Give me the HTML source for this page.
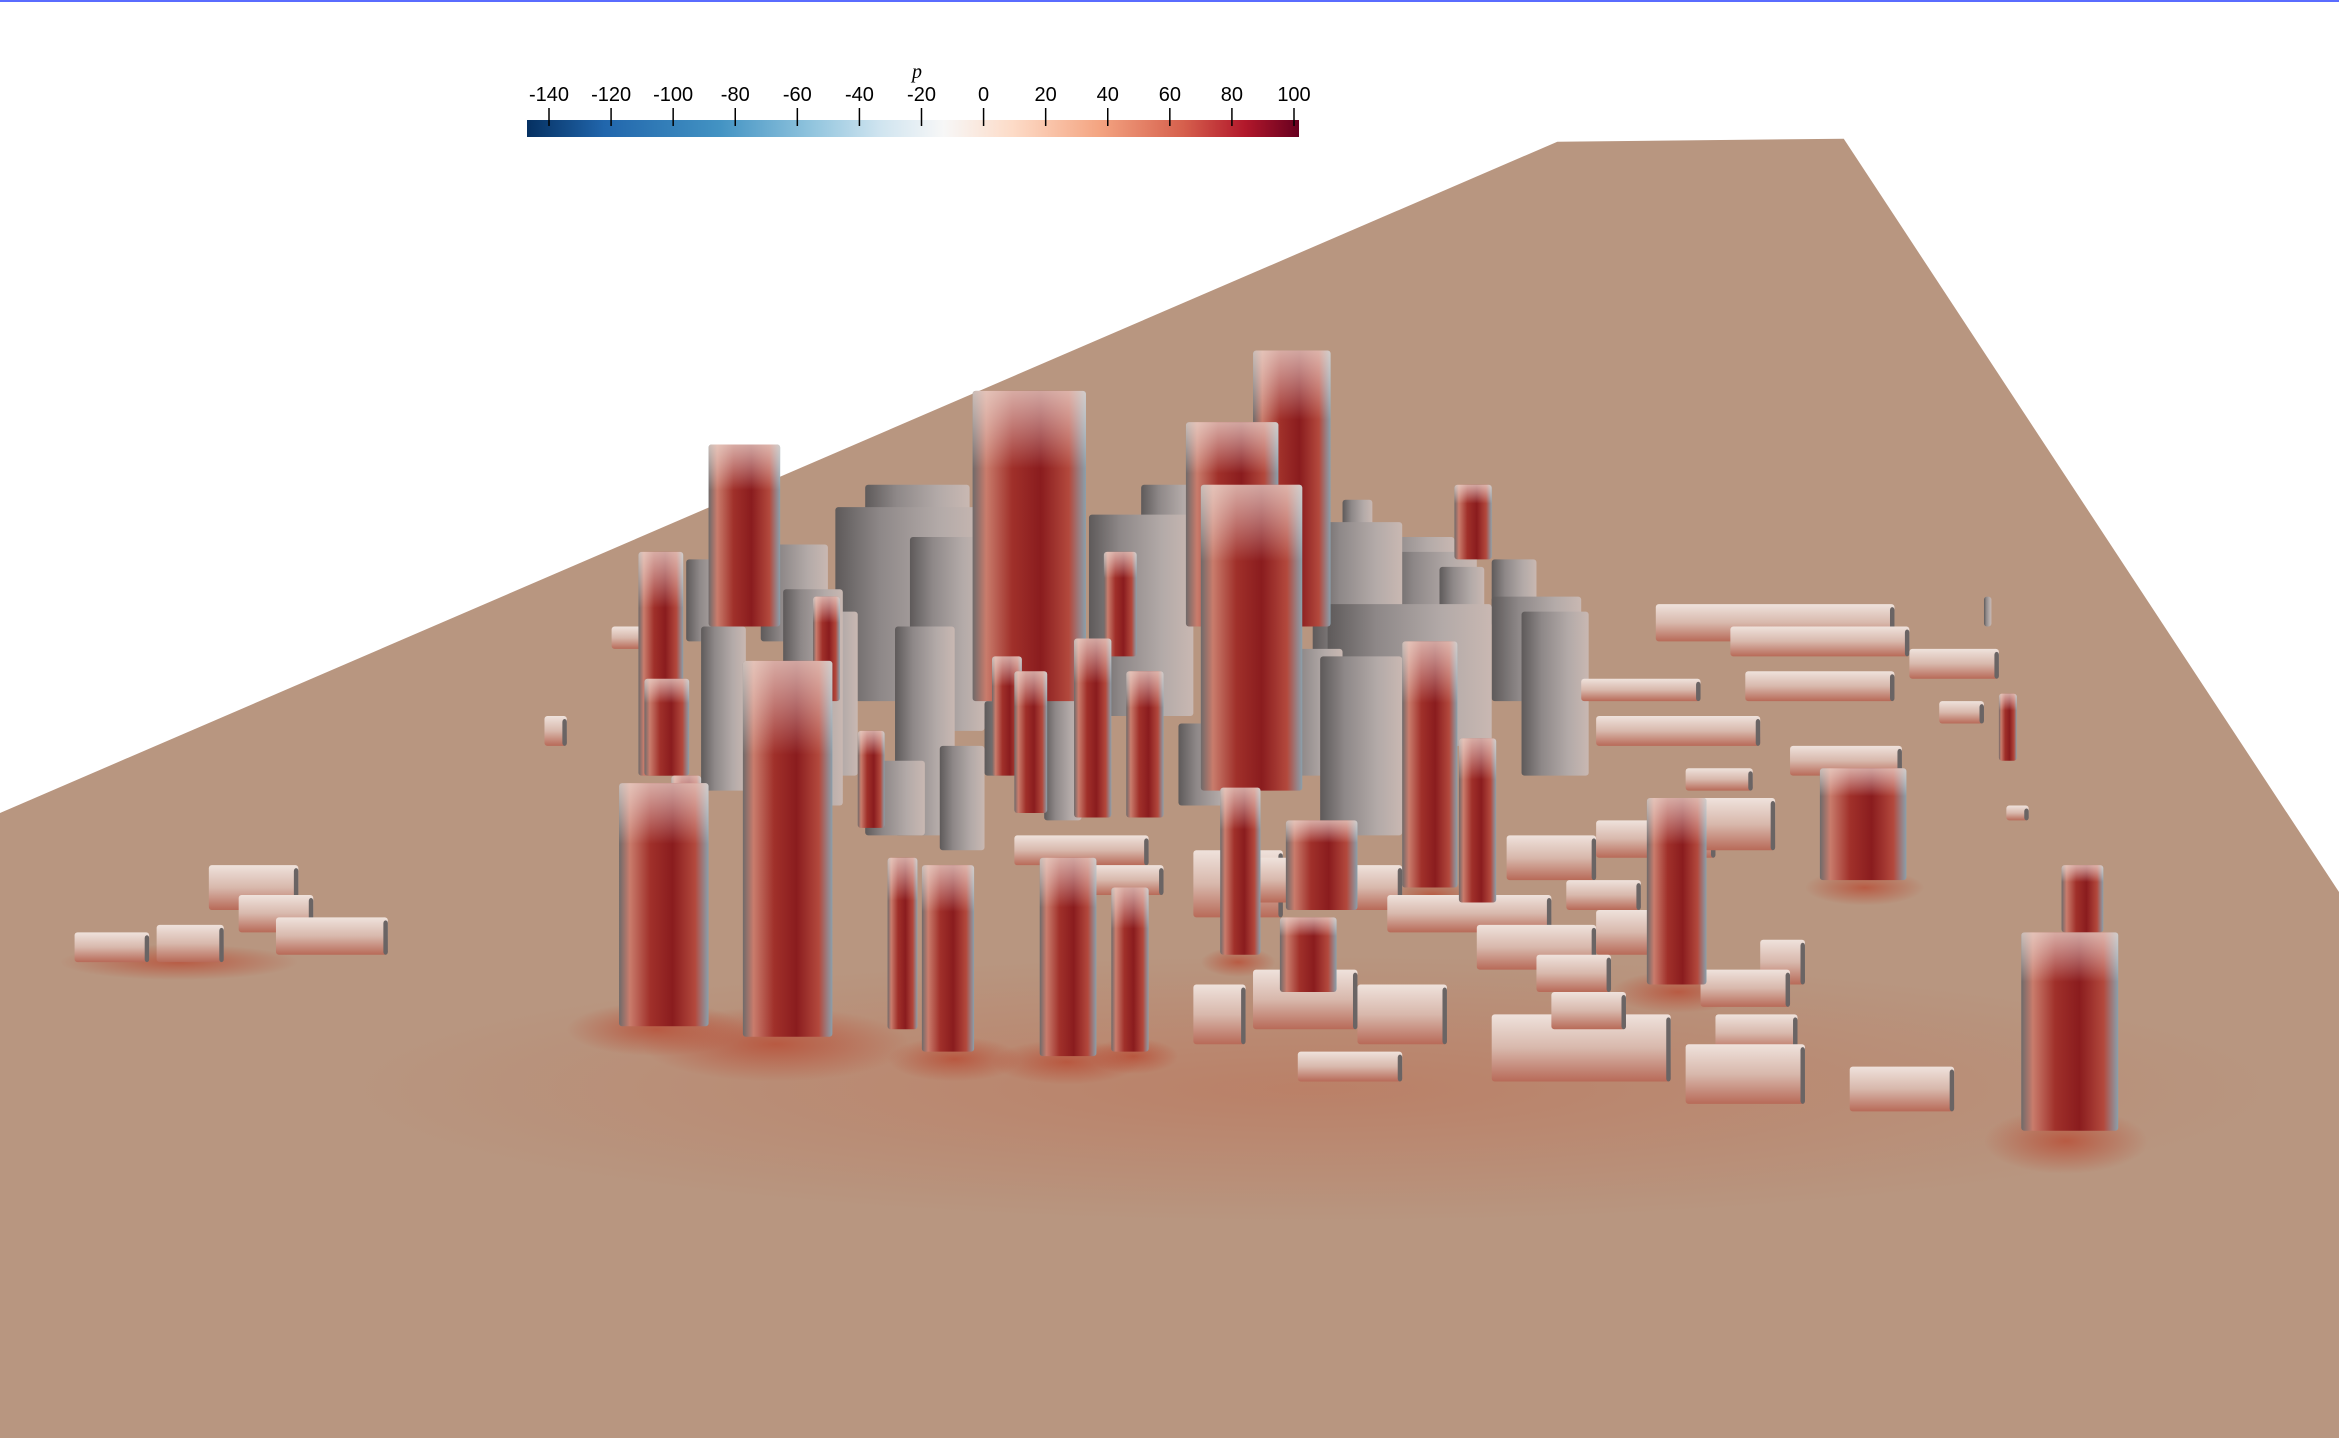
<!DOCTYPE html>
<html><head><meta charset="utf-8"><style>
html,body{margin:0;padding:0;background:#fff;}
#wrap{position:relative;width:2339px;height:1438px;overflow:hidden;font-family:"Liberation Sans",sans-serif;}
#scene{position:absolute;left:0;top:0;}
#cbar{position:absolute;left:0;top:0;}
#topline{position:absolute;left:0;top:0;width:2339px;height:2px;background:#5a6cff;}
</style></head><body>
<div id="wrap">
<svg id="scene" width="2339" height="1438" viewBox="0 0 1568 964" preserveAspectRatio="none">
<defs>
<linearGradient id="gRed" x1="0" x2="1" y1="0" y2="0">
<stop offset="0" stop-color="#6f6a6a"/><stop offset="0.12" stop-color="#c97c6c"/><stop offset="0.35" stop-color="#a0302a"/><stop offset="0.6" stop-color="#8a1c1e"/><stop offset="0.85" stop-color="#b3493d"/><stop offset="1" stop-color="#8aa0ac"/>
</linearGradient>
<linearGradient id="gRedV" x1="0" x2="0" y1="0" y2="1">
<stop offset="0" stop-color="#f0e0d8" stop-opacity="0.7"/><stop offset="0.25" stop-color="#fff" stop-opacity="0"/><stop offset="1" stop-color="#fff" stop-opacity="0"/>
</linearGradient>
<linearGradient id="gGrey" x1="0" x2="1" y1="0" y2="0">
<stop offset="0" stop-color="#5e5a5a"/><stop offset="0.3" stop-color="#8e8888"/><stop offset="0.7" stop-color="#b3aaa8"/><stop offset="1" stop-color="#c9b8b2"/>
</linearGradient>
<linearGradient id="gLow" x1="0" x2="0" y1="0" y2="1">
<stop offset="0" stop-color="#efe2dc"/><stop offset="0.5" stop-color="#d8b8ac"/><stop offset="1" stop-color="#b86a58"/>
</linearGradient>
<radialGradient id="halo" cx="0.5" cy="0.5" r="0.5">
<stop offset="0" stop-color="#b84830" stop-opacity="0.75"/><stop offset="1" stop-color="#b84830" stop-opacity="0"/>
</radialGradient>
<radialGradient id="wide" cx="0.5" cy="0.5" r="0.5">
<stop offset="0" stop-color="#c0583a" stop-opacity="0.35"/><stop offset="1" stop-color="#c0583a" stop-opacity="0"/>
</radialGradient>
</defs>
<polygon points="0,545 1044,95 1236,93 1568,598 1568,964 0,964" fill="#b89680"/>
<ellipse cx="880" cy="730" rx="650" ry="90" fill="url(#wide)"/>
<g id="halos"></g>
<g id="bldg"></g>
</svg>
<div id="topline"></div>
<svg id="cbar" width="2339" height="200">
<defs>
<linearGradient id="cmap" x1="0" x2="1">
<stop offset="0" stop-color="#053061"/><stop offset="0.1" stop-color="#2166ac"/><stop offset="0.25" stop-color="#4393c3"/><stop offset="0.37" stop-color="#92c5de"/><stop offset="0.46" stop-color="#d1e5f0"/><stop offset="0.54" stop-color="#f7f7f7"/><stop offset="0.63" stop-color="#fddbc7"/><stop offset="0.74" stop-color="#f4a582"/><stop offset="0.85" stop-color="#d6604d"/><stop offset="0.93" stop-color="#b2182b"/><stop offset="1" stop-color="#67001f"/>
</linearGradient>
</defs>
<rect x="527" y="120" width="772" height="17" fill="url(#cmap)"/>
<text x="917" y="78" font-family="Liberation Serif" font-style="italic" font-size="20" text-anchor="middle">p</text>
<g id="ticks"></g>
</svg>
</div>
<script>
const tickLabels=["-140","-120","-100","-80","-60","-40","-20","0","20","40","60","80","100"];
const tickValues=[-140,-120,-100,-80,-60,-40,-20,0,20,40,60,80,100];
const vmin=-140,vmax=100,x0=549,x1=1294;
const NS="http://www.w3.org/2000/svg";
const tg=document.getElementById('ticks');
tickValues.forEach((v,i)=>{
 const x=x0+(v-vmin)/(vmax-vmin)*(x1-x0);
 const l=document.createElementNS(NS,'line');
 
 
 l.setAttribute('x1',x);l.setAttribute('x2',x);l.setAttribute('y1',108);l.setAttribute('y2',126);
 l.setAttribute('stroke','#000');l.setAttribute('stroke-width','1.5');tg.appendChild(l);
 const t=document.createElementNS(NS,'text');
 
 
 t.setAttribute('x',x);t.setAttribute('y',101);t.setAttribute('text-anchor','middle');
 t.setAttribute('font-size','20');t.textContent=tickLabels[i];tg.appendChild(t);
});
const greys=[[560,340,100,470],[580,325,70,380],[610,360,50,490],[730,345,70,480],[765,325,40,400],[880,350,60,470],[900,335,20,380],[915,360,60,420],[890,405,110,500],[1000,400,60,470],[1020,410,45,520],[510,365,45,430],[525,395,40,540],[540,410,35,520],[460,375,30,430],[470,420,30,530],[600,420,40,560],[640,420,25,480],[660,470,40,520],[580,510,40,560],[790,485,40,540],[860,435,40,520],[885,440,55,560],[930,370,60,420],[965,380,30,420],[1000,375,30,420],[700,440,25,550],[630,500,30,570],[1330,400,5,420]];
const reds=[[652,262,76,470],[840,235,52,420],[795,283,62,420],[805,325,68,530],[475,298,48,420],[498,443,60,695],[415,525,60,688],[618,580,35,705],[697,575,38,708],[745,595,25,705],[818,528,27,640],[940,430,37,595],[978,495,25,605],[1104,535,40,660],[1220,515,58,590],[1355,625,65,758],[862,550,48,610],[858,615,38,665],[428,370,30,520],[432,455,30,520],[595,575,20,690],[720,428,25,548],[755,450,25,548],[975,325,25,375],[1340,465,12,510],[1382,580,28,625],[740,370,22,440],[665,440,20,520],[680,450,22,545],[450,520,20,610],[575,490,18,555],[545,400,18,470]];
const lows=[[50,625,50,645],[105,620,45,645],[140,580,60,610],[160,600,50,625],[185,615,75,640],[800,570,60,615],[840,575,60,605],[900,580,40,610],[930,600,110,625],[990,620,80,650],[1000,680,120,725],[1040,665,50,690],[1150,680,55,705],[1130,700,80,740],[1240,715,70,745],[870,705,70,725],[910,660,60,700],[1010,560,60,590],[1070,550,80,575],[1130,535,60,570],[1200,500,75,520],[1130,515,45,530],[1110,405,160,430],[1160,420,120,440],[1060,455,80,470],[1170,450,100,470],[1070,480,110,500],[1280,435,60,455],[1300,470,30,485],[1050,590,50,610],[1070,610,55,640],[680,560,90,580],[720,580,60,600],[1345,540,15,550],[365,480,15,500],[410,420,30,435],[800,660,35,700],[840,650,70,690],[1180,630,30,660],[1140,650,60,675],[1030,640,50,665]];
const halos=[[520,700,90,25],[440,690,60,18],[640,710,45,15],[715,712,50,15],[760,708,30,12],[1385,765,55,22],[1250,595,40,12],[1125,665,45,14],[830,645,25,10],[960,600,30,10],[120,645,80,12]];
const hg=document.getElementById('halos'),bg=document.getElementById('bldg');
halos.forEach(h=>{const e=document.createElementNS(NS,'ellipse');
 
 
 e.setAttribute('cx',h[0]);e.setAttribute('cy',h[1]);e.setAttribute('rx',h[2]);e.setAttribute('ry',h[3]);e.setAttribute('fill','url(#halo)');hg.appendChild(e);});
function rect(b,fill,name){const r=document.createElementNS(NS,'rect');
 
 
 r.setAttribute('x',b[0]);r.setAttribute('y',b[1]);r.setAttribute('width',b[2]);r.setAttribute('height',b[3]-b[1]);r.setAttribute('fill',fill);r.setAttribute('rx',2);bg.appendChild(r);return r;}
greys.sort((a,b)=>a[3]-b[3]).forEach(b=>rect(b,'url(#gGrey)','grey-building'));
lows.forEach(b=>{rect(b,'url(#gLow)','low-building');
 const s=rect([b[0]+b[2]-3,b[1]+2,3,b[3]],'#6a6464','low-building-side');
 });
reds.slice().sort((a,b)=>a[3]-b[3]).forEach(b=>{rect(b,'url(#gRed)','tower');
 const o=rect(b,'url(#gRedV)','tower-top-shade');
 });
</script>
</body></html>
